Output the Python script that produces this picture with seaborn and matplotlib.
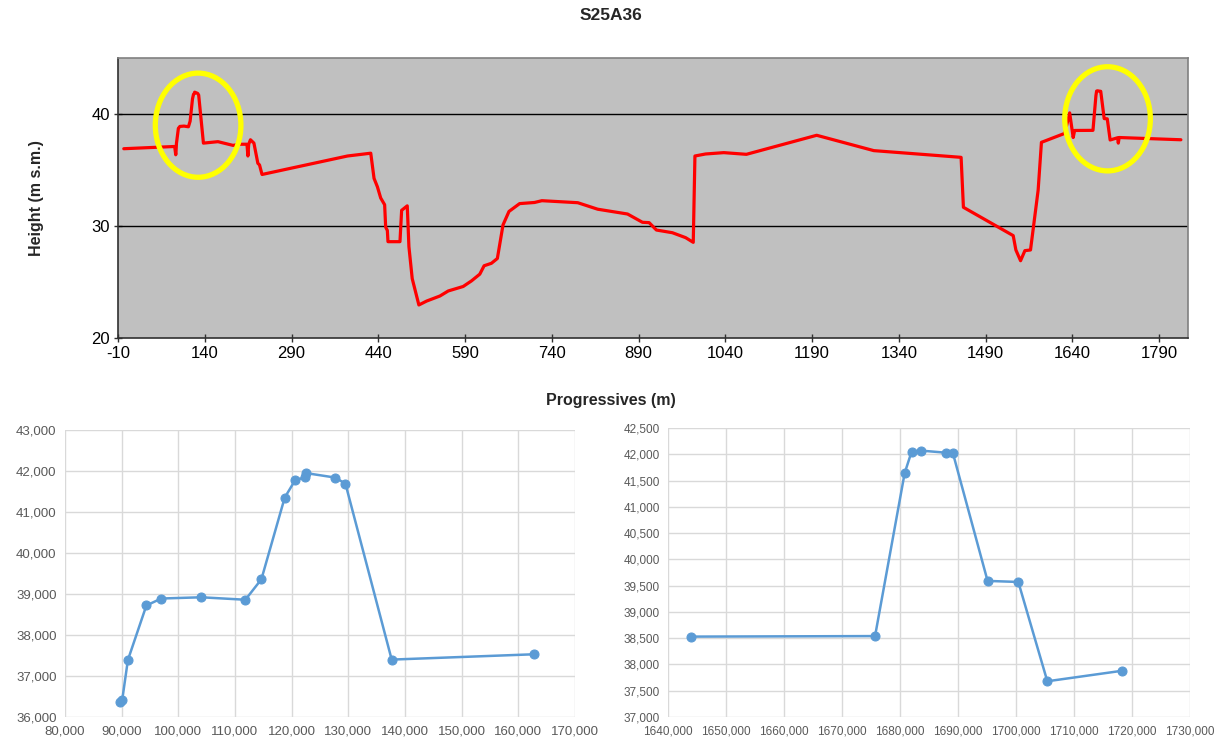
import matplotlib

matplotlib.use("Agg")
import matplotlib.pyplot as plt
from matplotlib.patches import Ellipse
from matplotlib.ticker import FuncFormatter
import seaborn as sns
import numpy as np
import pandas as pd

# 全体プロファイル (Progressive m, Height m s.m.)
top_x = [0, 88, 89.8, 90.1, 91.1, 94.4, 97.0, 104.1, 111.8, 114.7, 118.8, 120.6,
         122.4, 122.5, 127.7, 129.5, 137.7, 162.8, 188.7, 203, 213, 214.6, 216,
         219, 225, 231.8, 234.7, 239, 386.8, 427, 432.7, 438.5, 444.2, 451, 452.8,
         455.7, 456.8, 477.5, 480.4, 490.1, 493, 498.7, 510.2, 523.7, 546.6, 561,
         586.8, 601.2, 615.5, 623, 635.6, 645.9, 655.7, 666, 684.4, 710.2, 722.9,
         784.9, 819.3, 871, 896.8, 908.3, 920.9, 948.5, 971.4, 984.6, 987.5,
         1005.9, 1037.4, 1076.5, 1198, 1296.7, 1447.7, 1451.7, 1537.8, 1542.4,
         1550.5, 1558, 1567.7, 1580.9, 1586.6, 1626.8, 1635.4, 1641.5, 1644.0,
         1675.7, 1680.8, 1682.0, 1683.6, 1687.9, 1689.1, 1695.1, 1700.4, 1705.4,
         1718.3, 1719.5, 1721, 1827.7]
top_y = [36.9, 37.1, 36.36, 36.42, 37.39, 38.72, 38.89, 38.92, 38.86, 39.36, 41.35,
         41.77, 41.85, 41.95, 41.84, 41.69, 37.40, 37.53, 37.2, 37.3, 37.3, 36.25,
         37.3, 37.7, 37.4, 35.6, 35.45, 34.6, 36.25, 36.5, 34.25, 33.5, 32.5, 31.9,
         29.9, 29.6, 28.6, 28.6, 31.4, 31.8, 28.15, 25.3, 22.95, 23.3, 23.75, 24.2,
         24.6, 25.1, 25.7, 26.45, 26.67, 27.1, 30.1, 31.3, 32.0, 32.1, 32.26, 32.08,
         31.5, 31.07, 30.33, 30.3, 29.64, 29.4, 28.96, 28.54, 36.25, 36.43, 36.55,
         36.4, 38.1, 36.73, 36.13, 31.67, 29.14, 27.86, 26.9, 27.8, 27.86, 33.2,
         37.47, 38.27, 40.1, 37.9, 38.53, 38.54, 41.64, 42.05, 42.07, 42.03, 42.03,
         39.59, 39.57, 37.68, 37.88, 37.4, 37.9, 37.7]
top_xticks = list(range(-10, 1800, 150))
top_yticks = [20, 30, 40]

# 左の拡大図
left_x = [89.78, 90.1, 91.1, 94.36, 96.99, 104.07, 111.83, 114.66, 118.77, 120.59,
          122.35, 122.48, 127.67, 129.49, 137.65, 162.8]
left_y = [36.36, 36.42, 37.39, 38.72, 38.89, 38.92, 38.86, 39.36, 41.35, 41.77,
          41.85, 41.95, 41.84, 41.69, 37.40, 37.53]
left_xticks = list(range(80, 171, 10))
left_yticks = list(range(36, 44))

# 右の拡大図
right_x = [1644.0, 1675.7, 1680.8, 1682.0, 1683.6, 1687.9, 1689.1, 1695.1, 1700.4,
           1705.4, 1718.3]
right_y = [38.53, 38.54, 41.64, 42.05, 42.07, 42.03, 42.03, 39.59, 39.57, 37.68, 37.88]
right_xticks = list(range(1640, 1731, 10))
right_yticks = list(np.arange(37.0, 42.51, 0.5))

sns.set_style("white")
plt.rcParams["font.family"] = ["Liberation Sans", "DejaVu Sans"]
plt.rcParams["axes.unicode_minus"] = False

fig = plt.figure(figsize=(12.22, 7.44), dpi=100)

# ---- 上段: 縦断図 ----
ax = fig.add_axes([118 / 1222, 1 - 338 / 744, 1070 / 1222, 280 / 744])
ax.set_facecolor("#C0C0C0")
df_top = pd.DataFrame({"x": top_x, "y": top_y})
sns.lineplot(data=df_top, x="x", y="y", ax=ax, sort=False, estimator=None,
             color="#FF0000", linewidth=2.3, zorder=3)
ax.set_xlim(-10, 1840)
ax.set_ylim(20, 45)
ax.set_xticks(top_xticks)
ax.set_yticks(top_yticks)
for v in top_yticks[1:]:
    ax.axhline(v, color="black", linewidth=1, zorder=2)
for s in ax.spines.values():
    s.set_color("#808080")
    s.set_linewidth(1.2)
ax.spines["bottom"].set_color("#303030")
ax.spines["left"].set_color("#303030")
ax.tick_params(axis="both", which="both", direction="inout", length=6, width=1,
               color="#303030", labelsize=12, labelcolor="black", pad=3,
               bottom=True, left=True)
ax.set_xlabel("")
ax.set_ylabel("")

# 黄色の丸
for cx, cy in [(128.5, 39.0), (1700.9, 39.57)]:
    ax.add_patch(Ellipse((cx, cy), 148, 9.3, fill=False, edgecolor="#FFFF00",
                         linewidth=3.8, zorder=4))

fig.text(611 / 1222, 1 - 15 / 744, "S25A36", ha="center", va="center",
         fontsize=12.5, fontweight="bold")
fig.text(37 / 1222, 1 - 198 / 744, "Height (m s.m.)", ha="center", va="center",
         rotation=90, fontsize=11.5, fontweight="bold")
fig.text(611 / 1222, 1 - 400 / 744, "Progressives (m)", ha="center", va="center",
         fontsize=11.5, fontweight="bold")


def comma_fmt(v, pos):
    return f"{v:.3f}".replace(".", ",")


def style_zoom(axz, xticks, yticks, fsize):
    axz.set_facecolor("white")
    axz.set_xticks(xticks)
    axz.set_yticks(yticks)
    axz.set_xlim(xticks[0], xticks[-1])
    axz.set_ylim(yticks[0], yticks[-1])
    axz.grid(True, color="#D9D9D9", linewidth=1)
    axz.set_axisbelow(True)
    for s in axz.spines.values():
        s.set_visible(False)
    axz.xaxis.set_major_formatter(FuncFormatter(comma_fmt))
    axz.yaxis.set_major_formatter(FuncFormatter(comma_fmt))
    axz.tick_params(axis="both", length=0, labelsize=fsize, labelcolor="#595959",
                    pad=6)
    axz.set_xlabel("")
    axz.set_ylabel("")


# ---- 下段左 ----
ax1 = fig.add_axes([65 / 1222, 1 - 717 / 744, 510 / 1222, 287 / 744])
sns.lineplot(x=left_x, y=left_y, ax=ax1, sort=False, estimator=None,
             color="#5B9BD5", linewidth=1.8, marker="o", markersize=6.5,
             markeredgecolor="#5B9BD5")
style_zoom(ax1, left_xticks, left_yticks, 9.5)

# ---- 下段右 ----
ax2 = fig.add_axes([668 / 1222, 1 - 717 / 744, 522 / 1222, 289 / 744])
sns.lineplot(x=right_x, y=right_y, ax=ax2, sort=False, estimator=None,
             color="#5B9BD5", linewidth=1.8, marker="o", markersize=6.5,
             markeredgecolor="#5B9BD5")
style_zoom(ax2, right_xticks, right_yticks, 8.5)

fig.savefig("out.png", dpi=100)
plt.close(fig)
